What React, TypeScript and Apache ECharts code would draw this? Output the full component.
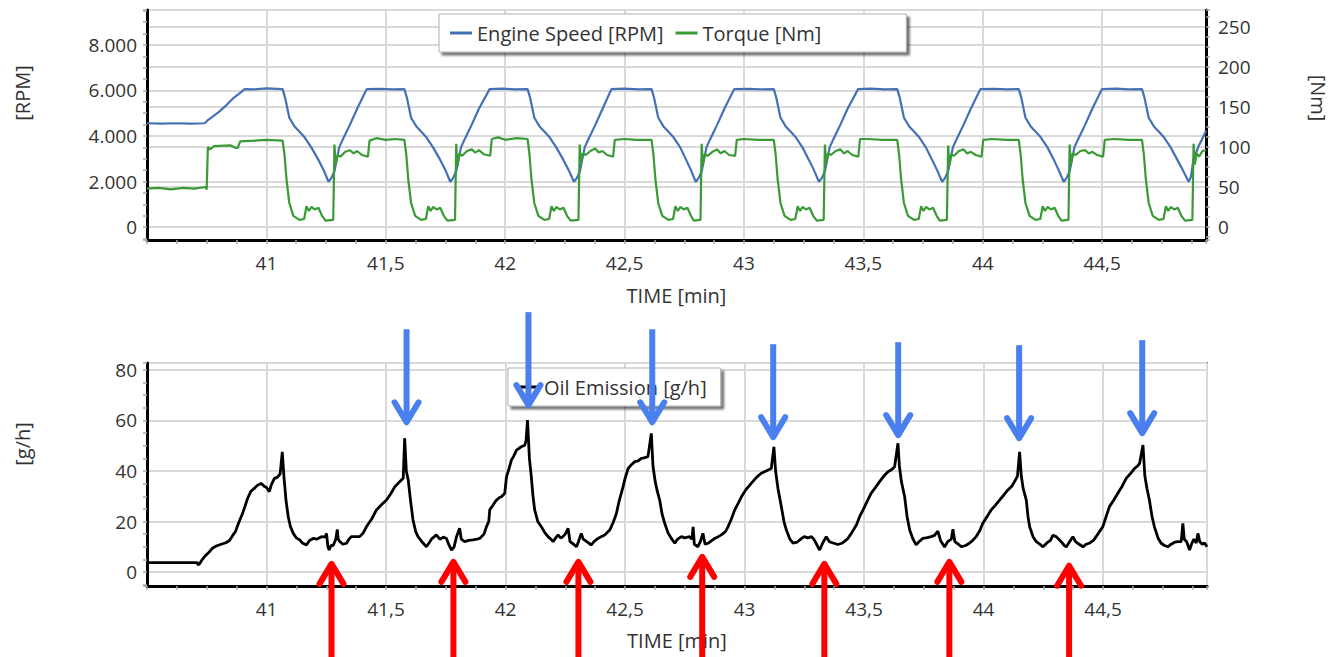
import React, { useEffect, useRef } from 'react';
import * as echarts from 'echarts';

const FONT = '"Open Sans", "Noto Sans", sans-serif';
const xMin = 40.5;
const xMax = 44.935;
const xTickStep = 0.5;

const engineSpeed: [number, number][] = [
  [40.5, 4560], [40.56, 4540], [40.62, 4560], [40.68, 4540], [40.742, 4560],
  [40.755, 4700], [40.775, 4850], [40.8, 5050], [40.833, 5360], [40.86, 5650], [40.885, 5850], [40.909, 6060], [40.95, 6050], [41.0, 6090], [41.068, 6060],
  [41.078, 5700], [41.096, 4800], [41.118, 4420], [41.138, 4200], [41.158, 3970], [41.188, 3500], [41.218, 2950], [41.24, 2500], [41.26, 1990],
  [41.272, 2150], [41.285, 2450], [41.305, 3500], [41.32, 3850], [41.35, 4500], [41.38, 5200], [41.42, 6060], [41.48, 6070], [41.53, 6050], [41.578, 6060],
  [41.588, 5700], [41.606, 4800], [41.628, 4420], [41.648, 4200], [41.668, 3970], [41.698, 3500], [41.728, 2950], [41.75, 2500], [41.77, 1990],
  [41.782, 2150], [41.795, 2450], [41.815, 3500], [41.83, 3850], [41.86, 4500], [41.89, 5200], [41.935, 6060], [41.99, 6080], [42.04, 6050], [42.094, 6060],
  [42.104, 5700], [42.122, 4800], [42.144, 4420], [42.164, 4200], [42.184, 3970], [42.214, 3500], [42.244, 2950], [42.266, 2500], [42.288, 1990],
  [42.3, 2150], [42.313, 2450], [42.333, 3500], [42.348, 3850], [42.378, 4500], [42.408, 5200], [42.445, 6060], [42.5, 6080], [42.56, 6050], [42.613, 6060],
  [42.623, 5700], [42.641, 4800], [42.663, 4420], [42.683, 4200], [42.703, 3970], [42.733, 3500], [42.758, 2950], [42.778, 2500], [42.798, 1990],
  [42.81, 2150], [42.823, 2450], [42.843, 3500], [42.858, 3850], [42.888, 4500], [42.918, 5200], [42.959, 6060], [43.02, 6070], [43.07, 6050], [43.125, 6060],
  [43.135, 5700], [43.153, 4800], [43.175, 4420], [43.195, 4200], [43.215, 3970], [43.245, 3500], [43.272, 2950], [43.293, 2500], [43.314, 1990],
  [43.326, 2150], [43.339, 2450], [43.359, 3500], [43.374, 3850], [43.404, 4500], [43.434, 5200], [43.478, 6060], [43.53, 6080], [43.59, 6050], [43.642, 6060],
  [43.652, 5700], [43.67, 4800], [43.692, 4420], [43.712, 4200], [43.732, 3970], [43.762, 3500], [43.788, 2950], [43.809, 2500], [43.83, 1990],
  [43.842, 2150], [43.855, 2450], [43.875, 3500], [43.89, 3850], [43.92, 4500], [43.95, 5200], [43.99, 6060], [44.05, 6070], [44.1, 6050], [44.151, 6060],
  [44.161, 5700], [44.179, 4800], [44.201, 4420], [44.221, 4200], [44.241, 3970], [44.271, 3500], [44.298, 2950], [44.318, 2500], [44.339, 1990],
  [44.351, 2150], [44.364, 2450], [44.384, 3500], [44.399, 3850], [44.429, 4500], [44.459, 5200], [44.499, 6060], [44.56, 6080], [44.61, 6050], [44.667, 6060],
  [44.677, 5700], [44.695, 4800], [44.717, 4420], [44.737, 4200], [44.757, 3970], [44.787, 3500], [44.815, 2950], [44.838, 2500], [44.862, 1990],
  [44.872, 2200], [44.882, 2950], [44.903, 3530], [44.918, 3850], [44.935, 4230],
];

const torque: [number, number][] = [
  [40.5, 48], [40.55, 49], [40.6, 47], [40.65, 49], [40.7, 48], [40.745, 50], [40.75, 47], [40.755, 100], [40.765, 97], [40.78, 101], [40.85, 102], [40.87, 99], [40.88, 99], [40.89, 107], [40.95, 108], [41.0, 109], [41.068, 108],
  [41.076, 90], [41.084, 60], [41.096, 30], [41.113, 14], [41.138, 9], [41.158, 10], [41.168, 26], [41.178, 20], [41.188, 25], [41.203, 22], [41.218, 24], [41.233, 14], [41.248, 8], [41.28, 9],
  [41.285, 103], [41.29, 78], [41.298, 90], [41.31, 88], [41.33, 94], [41.35, 96], [41.365, 92], [41.38, 95], [41.4, 90], [41.425, 88], [41.432, 108], [41.46, 111], [41.5, 109], [41.54, 110], [41.578, 109],
  [41.586, 90], [41.594, 60], [41.606, 30], [41.623, 14], [41.648, 9], [41.668, 10], [41.678, 26], [41.688, 20], [41.698, 25], [41.713, 22], [41.728, 24], [41.743, 14], [41.758, 8], [41.79, 9],
  [41.795, 104], [41.8, 76], [41.808, 92], [41.82, 89], [41.84, 95], [41.86, 97], [41.875, 93], [41.89, 96], [41.91, 91], [41.937, 89], [41.944, 110], [41.97, 112], [42.0, 109], [42.05, 111], [42.094, 110],
  [42.102, 90], [42.11, 60], [42.122, 30], [42.139, 14], [42.164, 9], [42.184, 10], [42.194, 26], [42.204, 20], [42.214, 25], [42.229, 22], [42.244, 24], [42.259, 14], [42.274, 8], [42.307, 9],
  [42.312, 103], [42.317, 80], [42.325, 92], [42.337, 90], [42.357, 95], [42.377, 98], [42.392, 93], [42.407, 95], [42.427, 90], [42.452, 88], [42.459, 109], [42.5, 110], [42.55, 109], [42.613, 109],
  [42.621, 90], [42.629, 60], [42.641, 30], [42.658, 14], [42.683, 9], [42.703, 10], [42.713, 26], [42.723, 20], [42.733, 25], [42.748, 22], [42.763, 24], [42.778, 14], [42.79, 8], [42.818, 9],
  [42.823, 104], [42.828, 78], [42.836, 91], [42.848, 89], [42.868, 94], [42.888, 97], [42.903, 92], [42.918, 95], [42.938, 90], [42.963, 89], [42.97, 109], [43.0, 110], [43.06, 109], [43.125, 109],
  [43.133, 90], [43.141, 60], [43.153, 30], [43.17, 14], [43.195, 9], [43.215, 10], [43.225, 26], [43.235, 20], [43.245, 25], [43.26, 22], [43.275, 24], [43.29, 14], [43.305, 8], [43.334, 9],
  [43.339, 103], [43.344, 79], [43.352, 92], [43.364, 90], [43.384, 95], [43.404, 97], [43.419, 92], [43.434, 95], [43.454, 90], [43.479, 88], [43.486, 110], [43.52, 110], [43.58, 109], [43.642, 109],
  [43.65, 90], [43.658, 60], [43.67, 30], [43.687, 14], [43.712, 9], [43.732, 10], [43.742, 26], [43.752, 20], [43.762, 25], [43.777, 22], [43.792, 24], [43.807, 14], [43.82, 8], [43.85, 9],
  [43.855, 102], [43.86, 77], [43.868, 91], [43.88, 89], [43.9, 95], [43.92, 97], [43.935, 92], [43.95, 94], [43.97, 90], [43.995, 88], [44.002, 109], [44.04, 110], [44.1, 109], [44.151, 109],
  [44.159, 90], [44.167, 60], [44.179, 30], [44.196, 14], [44.221, 9], [44.241, 10], [44.251, 26], [44.261, 20], [44.271, 25], [44.286, 22], [44.301, 24], [44.316, 14], [44.33, 8], [44.359, 9],
  [44.364, 103], [44.369, 78], [44.377, 92], [44.389, 90], [44.409, 95], [44.429, 96], [44.444, 92], [44.459, 94], [44.479, 90], [44.504, 88], [44.511, 109], [44.55, 110], [44.61, 109], [44.667, 109],
  [44.675, 90], [44.683, 60], [44.695, 30], [44.712, 14], [44.737, 9], [44.757, 10], [44.767, 26], [44.777, 20], [44.787, 25], [44.802, 22], [44.817, 24], [44.832, 14], [44.847, 8], [44.878, 9],
  [44.883, 104], [44.888, 78], [44.896, 92], [44.906, 88], [44.92, 95], [44.935, 96],
];

const oilEmission: [number, number][] = [
  [40.5, 3.7], [40.6, 3.7], [40.71, 3.7], [40.714, 2.8], [40.72, 3.3], [40.73, 4.8], [40.74, 6], [40.755, 7.4], [40.775, 9.5], [40.79, 10.3], [40.81, 11], [40.83, 11.6], [40.845, 12.5], [40.86, 14.7], [40.87, 16], [40.88, 18.6], [40.89, 21], [40.9, 23.2], [40.91, 26], [40.921, 29.2], [40.935, 32], [40.949, 33.1], [40.96, 34.2], [40.977, 35.1], [40.99, 34], [41.0, 33.5], [41.012, 31.8], [41.02, 34.5], [41.033, 37.1], [41.045, 37.5], [41.057, 38.8], [41.066, 47.6],
  [41.073, 37.7], [41.082, 28], [41.091, 21.9], [41.1, 18], [41.112, 15.3], [41.125, 13.5], [41.139, 12.7], [41.15, 11.5], [41.167, 10.7], [41.18, 12.5], [41.195, 13.3], [41.21, 13], [41.23, 14], [41.245, 13.8], [41.251, 15.3], [41.257, 10], [41.262, 8.7], [41.27, 10.5], [41.279, 10.5], [41.29, 13], [41.296, 16.9], [41.3, 13], [41.307, 12], [41.32, 11], [41.335, 11.4], [41.345, 13], [41.355, 14], [41.37, 14], [41.39, 14], [41.405, 15.5], [41.418, 17.9], [41.44, 21], [41.46, 24.6], [41.48, 26.5], [41.502, 28.5], [41.52, 31], [41.537, 33.8], [41.555, 35.5], [41.572, 37.1], [41.578, 53],
  [41.585, 40], [41.593, 36.4], [41.603, 28], [41.613, 20.6], [41.624, 16], [41.634, 14], [41.65, 12], [41.669, 10], [41.68, 11.5], [41.69, 13], [41.711, 14.7], [41.725, 13], [41.74, 13.8], [41.753, 13.3], [41.762, 11], [41.774, 8.7], [41.785, 10], [41.795, 14], [41.808, 17.3], [41.815, 13], [41.829, 12], [41.845, 12.5], [41.864, 12.7], [41.88, 13], [41.892, 13.3], [41.91, 15], [41.92, 17.9], [41.93, 20], [41.934, 24.6], [41.948, 26.5], [41.962, 28.5], [41.975, 29.5], [41.983, 29.8], [41.997, 31.2], [42.004, 37.7], [42.015, 41], [42.025, 44.4], [42.035, 46], [42.046, 48.3], [42.066, 49.6], [42.08, 50.2], [42.086, 52], [42.092, 60.2],
  [42.1, 45], [42.108, 37.7], [42.115, 30], [42.122, 24.6], [42.135, 20], [42.15, 17.9], [42.165, 15.5], [42.178, 14], [42.19, 13], [42.199, 12], [42.21, 13.5], [42.22, 14.7], [42.23, 13.5], [42.24, 14], [42.25, 15], [42.262, 17.3], [42.27, 12], [42.285, 11], [42.297, 10], [42.305, 12], [42.317, 15.3], [42.325, 13], [42.34, 12], [42.359, 10.7], [42.37, 12], [42.387, 13.3], [42.4, 14], [42.415, 14.7], [42.436, 16.6], [42.45, 19.5], [42.464, 23.2], [42.475, 28], [42.484, 31], [42.492, 33.8], [42.5, 37], [42.513, 41], [42.527, 42.5], [42.541, 43.7], [42.555, 44], [42.568, 45], [42.58, 45.2], [42.596, 45.7], [42.61, 54.9],
  [42.617, 42], [42.626, 36], [42.635, 32], [42.645, 28.5], [42.655, 23], [42.666, 19.3], [42.68, 15.5], [42.694, 13.3], [42.708, 11.4], [42.72, 13], [42.736, 14], [42.75, 13.5], [42.77, 14], [42.78, 13], [42.785, 17.9], [42.79, 11], [42.805, 10], [42.815, 12], [42.826, 15.3], [42.835, 11], [42.85, 11.5], [42.875, 13.3], [42.89, 14], [42.903, 14.7], [42.92, 16], [42.931, 17.9], [42.945, 21], [42.959, 24.6], [42.975, 27.5], [42.987, 29.8], [43.005, 32.5], [43.028, 35.1], [43.05, 37.5], [43.07, 39.1], [43.09, 40], [43.112, 41], [43.123, 49.6],
  [43.13, 40], [43.14, 33], [43.154, 25.9], [43.165, 20], [43.175, 16.6], [43.19, 13], [43.203, 11.4], [43.22, 11.8], [43.235, 13], [43.25, 14], [43.265, 13.5], [43.28, 14], [43.29, 13], [43.307, 10], [43.314, 8.7], [43.325, 11], [43.333, 12.5], [43.342, 14], [43.355, 12], [43.37, 11.5], [43.391, 10.9], [43.41, 11.5], [43.43, 13], [43.447, 15.3], [43.468, 18.6], [43.482, 22], [43.496, 24.6], [43.513, 28], [43.53, 31.2], [43.548, 33.5], [43.565, 35.8], [43.583, 38], [43.6, 39.7], [43.615, 40.5], [43.628, 41.7], [43.642, 51],
  [43.648, 42], [43.656, 36], [43.67, 29.8], [43.68, 22], [43.691, 16.6], [43.705, 13], [43.718, 10.8], [43.73, 12], [43.746, 13.3], [43.765, 13.6], [43.781, 14], [43.795, 14.5], [43.809, 16.2], [43.82, 12.5], [43.837, 9.9], [43.85, 12], [43.865, 13], [43.872, 16.9], [43.88, 12], [43.895, 11], [43.907, 10], [43.925, 10.5], [43.941, 11.4], [43.955, 12.5], [43.969, 14], [43.985, 16.5], [43.997, 19.3], [44.015, 22], [44.032, 24.6], [44.05, 26.5], [44.067, 28.5], [44.085, 30.5], [44.102, 32.5], [44.118, 34], [44.13, 35.8], [44.142, 38], [44.151, 47.6],
  [44.158, 38], [44.166, 33], [44.179, 28.5], [44.186, 22], [44.193, 17.9], [44.207, 14], [44.221, 12], [44.235, 11], [44.249, 10], [44.265, 11.5], [44.28, 12.5], [44.29, 14.5], [44.304, 14], [44.315, 13], [44.325, 12], [44.338, 10.5], [44.346, 9.9], [44.36, 12], [44.374, 14], [44.385, 12], [44.4, 11], [44.416, 10], [44.43, 11], [44.445, 11.5], [44.46, 12.5], [44.471, 14], [44.485, 16], [44.499, 17.9], [44.513, 22], [44.527, 25.9], [44.545, 28.5], [44.562, 31.2], [44.58, 34], [44.597, 37.1], [44.615, 39], [44.632, 41], [44.645, 42], [44.653, 43], [44.667, 50.3],
  [44.675, 38], [44.684, 33], [44.694, 28.5], [44.705, 22], [44.715, 17.9], [44.73, 13.5], [44.743, 11.4], [44.757, 10.5], [44.771, 10], [44.785, 11], [44.8, 11.8], [44.815, 12], [44.827, 12], [44.834, 19.3], [44.84, 13], [44.85, 12], [44.862, 8.7], [44.87, 11], [44.88, 13], [44.89, 11.5], [44.897, 15.3], [44.905, 12], [44.915, 11], [44.925, 11.5], [44.935, 10],
];

// annotation arrows (time, value at arrow tip)
const blueArrowTimes = [41.586, 42.096, 42.614, 43.12, 43.643, 44.149, 44.664];
const blueArrowTips = [58.5, 65.3, 58.5, 52.6, 53.4, 52.2, 54.2];
const redArrowTimes = [41.272, 41.782, 42.305, 42.823, 43.334, 43.857, 44.358];
const redArrowTips = [4.0, 4.8, 4.8, 6.8, 4.0, 4.8, 3.3];

const TEXT = '#333333';
const GRID_LINE = '#d9d9d9';
const TICK_FS = 19;
const NAME_FS = 20;
const LEGEND_FS = 20;

function fmtX(v: number): string {
  if (v <= xMin + 1e-6 || v >= xMax - 0.01) return '';
  if (Math.abs(v / xTickStep - Math.round(v / xTickStep)) > 1e-6) return '';
  return String(Math.round(v * 10) / 10).replace('.', ',');
}
function fmtRpm(v: number): string {
  if (v % 2000 !== 0) return '';
  if (v >= 1000) return Math.floor(v / 1000) + '.' + String(v % 1000).padStart(3, '0');
  return String(v);
}
function fmtStep(step: number) {
  return (v: number) => (Math.abs(v % step) < 1e-6 ? String(v) : '');
}

function xAxisCfg(gridIndex: number, nameGap: number) {
  return {
    type: 'value',
    gridIndex,
    min: xMin,
    max: xMax,
    interval: xTickStep,
    name: 'TIME [min]',
    nameLocation: 'middle',
    nameGap,
    nameTextStyle: { color: TEXT, fontSize: NAME_FS, fontFamily: FONT },
    axisLine: { show: true, onZero: false, lineStyle: { color: '#000', width: 3 } },
    axisTick: { show: true, length: 4, lineStyle: { color: '#aaa', width: 1.5 } },
    minorTick: { show: true, splitNumber: 4, length: 4, lineStyle: { color: '#aaa', width: 1.5 } },
    axisLabel: { formatter: fmtX, color: TEXT, fontSize: TICK_FS, fontFamily: FONT, margin: 13 },
    splitLine: { show: true, lineStyle: { color: GRID_LINE, width: 2 } },
  };
}

function legendBox(extra: any) {
  return {
    itemGap: 12,
    itemWidth: 22,
    itemHeight: 3,
    icon: 'rect',
    backgroundColor: '#ffffff',
    borderColor: '#b0b0b0',
    borderWidth: 1,
    shadowColor: 'rgba(0,0,0,0.55)',
    shadowBlur: 2,
    shadowOffsetX: 3,
    shadowOffsetY: 3,
    textStyle: { color: TEXT, fontSize: LEGEND_FS, fontFamily: FONT },
    ...extra,
  };
}

export default function App() {
  const ref = useRef<HTMLDivElement>(null);
  useEffect(() => {
    if (!ref.current) return;
    const chart = echarts.init(ref.current, undefined, { renderer: 'svg' });
    const option: any = {
      animation: false,
      backgroundColor: '#ffffff',
      grid: [
        { left: 147, top: 10, width: 1059, height: 230, show: true, borderColor: '#707070', borderWidth: 2 },
        { left: 147, top: 363, width: 1060, height: 223, show: true, borderColor: '#707070', borderWidth: 2 },
      ],
      legend: [
        legendBox({
          data: ['Engine Speed [RPM]', 'Torque [Nm]'],
          left: 439,
          top: 14,
          padding: [9, 85, 9, 11],
        }),
        legendBox({
          data: ['Oil Emission [g/h]'],
          left: 508,
          top: 368,
          padding: [9, 14, 9, 9],
        }),
      ],
      xAxis: [xAxisCfg(0, 45), xAxisCfg(1, 44)],
      yAxis: [
        {
          type: 'value',
          gridIndex: 0,
          position: 'left',
          min: -571,
          max: 9538,
          axisLine: { show: true, lineStyle: { color: '#000', width: 3 } },
          axisTick: { show: true, length: 4, lineStyle: { color: '#aaa', width: 1.5 } },
          minorTick: { show: true, splitNumber: 4, length: 4, lineStyle: { color: '#aaa', width: 1.5 } },
          axisLabel: { formatter: fmtRpm, color: TEXT, fontSize: TICK_FS, fontFamily: FONT, margin: 10 },
          splitLine: { show: true, lineStyle: { color: GRID_LINE, width: 2 } },
        },
        {
          type: 'value',
          gridIndex: 0,
          position: 'right',
          min: -16.25,
          max: 271.25,
          axisLine: { show: true, lineStyle: { color: '#000', width: 3 } },
          axisTick: { show: true, length: 4, lineStyle: { color: '#aaa', width: 1.5 } },
          minorTick: { show: true, splitNumber: 4, length: 4, lineStyle: { color: '#aaa', width: 1.5 } },
          axisLabel: { formatter: fmtStep(50), color: TEXT, fontSize: TICK_FS, fontFamily: FONT, margin: 12 },
          splitLine: { show: true, lineStyle: { color: GRID_LINE, width: 2 } },
        },
        {
          type: 'value',
          gridIndex: 1,
          position: 'left',
          min: -5.54,
          max: 82.77,
          axisLine: { show: true, lineStyle: { color: '#000', width: 3 } },
          axisTick: { show: true, length: 4, lineStyle: { color: '#aaa', width: 1.5 } },
          minorTick: { show: true, splitNumber: 4, length: 4, lineStyle: { color: '#aaa', width: 1.5 } },
          axisLabel: { formatter: fmtStep(20), color: TEXT, fontSize: TICK_FS, fontFamily: FONT, margin: 10 },
          splitLine: { show: true, lineStyle: { color: GRID_LINE, width: 2 } },
        },
      ],
      series: [
        {
          name: 'Engine Speed [RPM]',
          type: 'line',
          xAxisIndex: 0,
          yAxisIndex: 0,
          data: engineSpeed,
          showSymbol: false,
          color: '#4670b4',
          lineStyle: { width: 2.2, color: '#4670b4' },
          z: 3,
        },
        {
          name: 'Torque [Nm]',
          type: 'line',
          xAxisIndex: 0,
          yAxisIndex: 1,
          data: torque,
          showSymbol: false,
          color: '#3a9a35',
          lineStyle: { width: 2.2, color: '#3a9a35' },
          z: 4,
        },
        {
          name: 'Oil Emission [g/h]',
          type: 'line',
          xAxisIndex: 1,
          yAxisIndex: 2,
          data: oilEmission,
          showSymbol: false,
          color: '#000000',
          lineStyle: { width: 2.8, color: '#000000' },
          z: 3,
        },
      ],
    };
    chart.setOption(option);

    const graphics: any[] = [
      {
        type: 'text', x: 22, y: 93, rotation: Math.PI / 2, z: 10,
        style: { text: '[RPM]', fill: TEXT, fontSize: NAME_FS, fontFamily: FONT, align: 'center', verticalAlign: 'middle' },
      },
      {
        type: 'text', x: 1318, y: 98, rotation: -Math.PI / 2, z: 10,
        style: { text: '[Nm]', fill: TEXT, fontSize: NAME_FS, fontFamily: FONT, align: 'center', verticalAlign: 'middle' },
      },
      {
        type: 'text', x: 22, y: 444, rotation: Math.PI / 2, z: 10,
        style: { text: '[g/h]', fill: TEXT, fontSize: NAME_FS, fontFamily: FONT, align: 'center', verticalAlign: 'middle' },
      },
    ];
    const blue = '#4a7ff0';
    const red = '#ff0000';
    blueArrowTimes.forEach((t, i) => {
      const p = chart.convertToPixel({ seriesIndex: 2 }, [t, blueArrowTips[i]]) as number[];
      const x = p[0], y = p[1];
      graphics.push({
        type: 'line', z: 20,
        shape: { x1: x, y1: y - 95, x2: x, y2: y - 4 },
        style: { stroke: blue, lineWidth: 6 },
      });
      graphics.push({
        type: 'polyline', z: 20,
        shape: { points: [[x - 12, y - 22], [x, y - 2], [x + 12, y - 22]] },
        style: { stroke: blue, lineWidth: 6, fill: null, lineCap: 'round', lineJoin: 'round' },
      });
    });
    redArrowTimes.forEach((t, i) => {
      const p = chart.convertToPixel({ seriesIndex: 2 }, [t, redArrowTips[i]]) as number[];
      const x = p[0], y = p[1];
      graphics.push({
        type: 'line', z: 20,
        shape: { x1: x, y1: y + 4, x2: x, y2: 660 },
        style: { stroke: red, lineWidth: 6 },
      });
      graphics.push({
        type: 'polyline', z: 20,
        shape: { points: [[x - 12, y + 22], [x, y + 2], [x + 12, y + 22]] },
        style: { stroke: red, lineWidth: 6, fill: null, lineCap: 'round', lineJoin: 'round' },
      });
    });
    chart.setOption({ graphic: graphics });

    return () => chart.dispose();
  }, []);

  return (
    <div
      ref={ref}
      style={{ position: 'fixed', left: 0, top: 0, width: 1330, height: 657, background: '#fff' }}
    />
  );
}
